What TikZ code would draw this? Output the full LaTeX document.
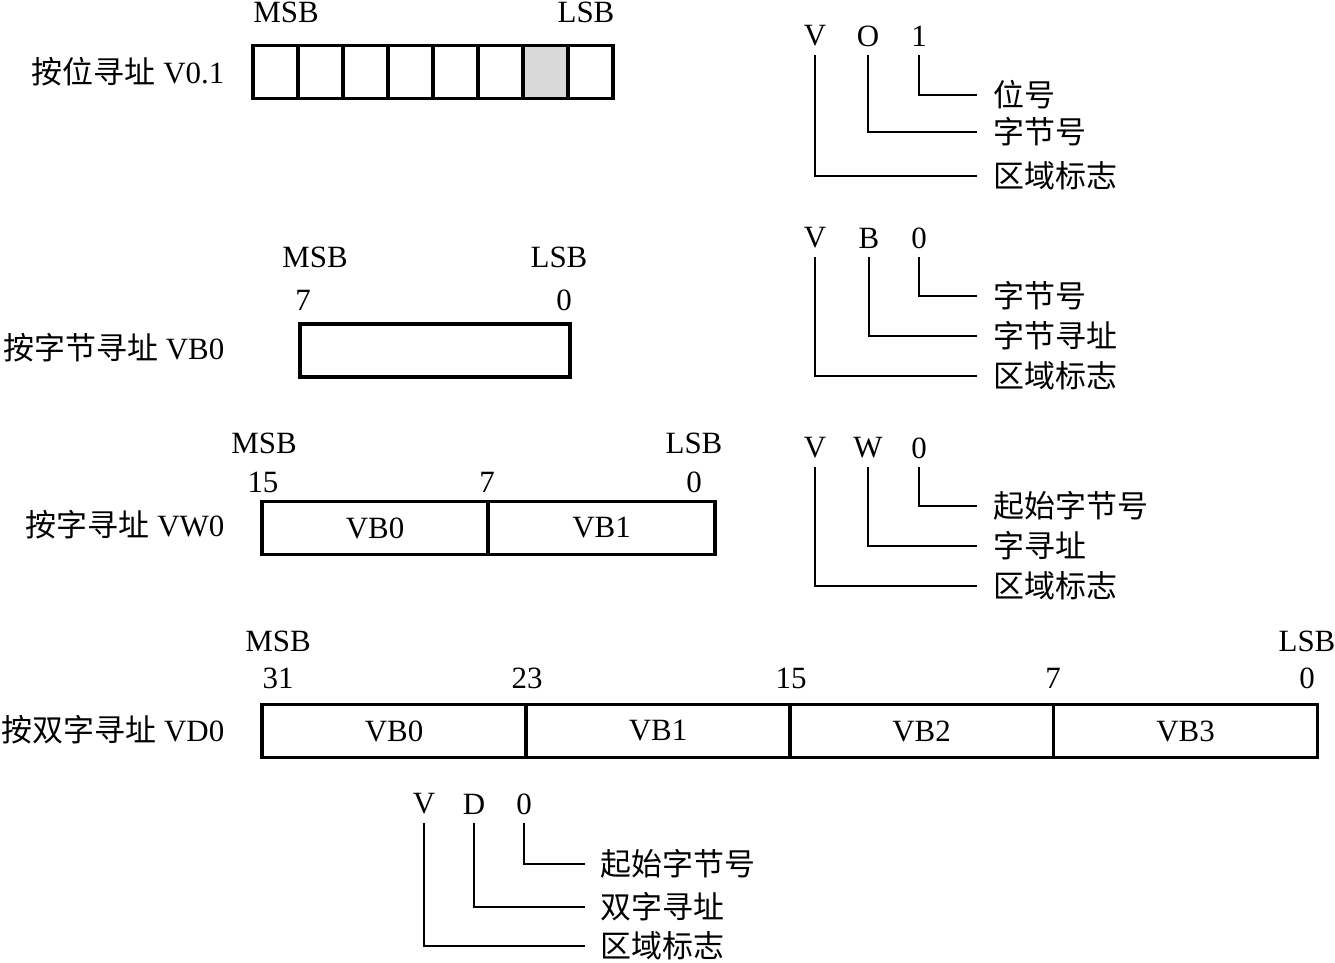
\documentclass[tikz,border=0pt]{standalone}
\usepackage{fontspec}
\setmainfont{Liberation Serif}
\newfontfamily\cjk{Noto Sans CJK SC}
\usetikzlibrary{positioning}
\definecolor{bitgray}{RGB}{217,217,217}
\tikzset{
  lbl/.style={inner sep=0pt,font=\fontsize{8.8}{10}\selectfont},
  zh/.style={lbl,anchor=west,font=\fontsize{8.8}{10}\selectfont\cjk},
  field/.style={draw,line width=0.9pt,minimum height=0.53cm,inner sep=0pt,font=\fontsize{8.8}{10}\selectfont},
  lead/.style={line width=0.6pt,shorten >=0.16cm},
}

\begin{document}
\begin{tikzpicture}[x=0.01cm,y=-0.01cm]
\useasboundingbox (0,0) rectangle (1335,963);
% V0.1
\node[lbl,anchor=east] (bitname) at (225,72) {{\cjk 按位寻址} V0.1};
\foreach \i/\c in {1/white,2/white,3/white,4/white,5/white,6/white,7/bitgray,8/white}
  {\node[field,fill=\c,minimum width=0.45cm] (bit\i) at ({230.5+45*\i},72) {};}
\node[lbl] (bitmsb) at (286,12) {MSB};
\node[lbl] (bitlsb) at (586,12) {LSB};
\node[lbl] (bitv) at (815,36) {V};
\node[lbl] (bito) at (868,36) {O};
\node[lbl] (bitn) at (919,36) {1};
\node[zh] (bitnum) at (993,95) {位号};
\node[zh] (bitbyte) at (993,132) {字节号};
\node[zh] (bitarea) at (993,176) {区域标志};
\draw[lead] ([yshift=-0.08cm]bitn.south) |- (bitnum.west);
\draw[lead] ([yshift=-0.08cm]bito.south) |- (bitbyte.west);
\draw[lead] ([yshift=-0.08cm]bitv.south) |- (bitarea.west);
% VB0
\node[lbl,anchor=east] (bytename) at (225,348) {{\cjk 按字节寻址} VB0};
\node[field,minimum width=2.7cm] (byte) at (435,350.5) {};
\node[lbl] (bytemsb) at (315,257) {MSB};
\node[lbl] (bytelsb) at (559,257) {LSB};
\node[lbl] (byte7) at (303,300) {7};
\node[lbl] (byte0) at (564,300) {0};
\node[lbl] (bytev) at (815,238) {V};
\node[lbl] (byteb) at (869,238) {B};
\node[lbl] (byten) at (919,238) {0};
\node[zh] (bytenum) at (993,296) {字节号};
\node[zh] (bytemode) at (993,336) {字节寻址};
\node[zh] (bytearea) at (993,376) {区域标志};
\draw[lead] ([yshift=-0.08cm]byten.south) |- (bytenum.west);
\draw[lead] ([yshift=-0.08cm]byteb.south) |- (bytemode.west);
\draw[lead] ([yshift=-0.08cm]bytev.south) |- (bytearea.west);
% VW0
\node[lbl,anchor=east] (wordname) at (225,525) {{\cjk 按字寻址} VW0};
\node[field,minimum width=2.26cm] (wordb0) at (375,528) {VB0};
\node[field,minimum width=2.27cm] (wordb1) at (601.5,528) {VB1};
\node[lbl] (wordmsb) at (264,443) {MSB};
\node[lbl] (wordlsb) at (694,443) {LSB};
\foreach \b/\x in {15/263,7/487,0/694}
  {\node[lbl] (word\b) at (\x,482) {\b};}
\node[lbl] (wordv) at (815,448) {V};
\node[lbl] (wordw) at (868,448) {W};
\node[lbl] (wordn) at (919,448) {0};
\node[zh] (wordnum) at (993,506) {起始字节号};
\node[zh] (wordmode) at (993,546) {字寻址};
\node[zh] (wordarea) at (993,586) {区域标志};
\draw[lead] ([yshift=-0.08cm]wordn.south) |- (wordnum.west);
\draw[lead] ([yshift=-0.08cm]wordw.south) |- (wordmode.west);
\draw[lead] ([yshift=-0.08cm]wordv.south) |- (wordarea.west);
% VD0
\node[lbl,anchor=east] (dwname) at (225,730) {{\cjk 按双字寻址} VD0};
\foreach \i/\x in {0/394,1/658,2/921.5,3/1185.5}
  {\node[field,minimum width=2.64cm] (dwb\i) at (\x,731) {VB\i};}
\node[lbl] (dwmsb) at (278,641) {MSB};
\node[lbl] (dwlsb) at (1307,641) {LSB};
\foreach \b/\x in {31/278,23/527,15/791,7/1053,0/1307}
  {\node[lbl] (dw\b) at (\x,678) {\b};}
\node[lbl] (dwv) at (424,804) {V};
\node[lbl] (dwd) at (474,804) {D};
\node[lbl] (dwn) at (524,804) {0};
\node[zh] (dwnum) at (600,864) {起始字节号};
\node[zh] (dwmode) at (600,907) {双字寻址};
\node[zh] (dwarea) at (600,946) {区域标志};
\draw[lead,shorten >=0.15cm] ([yshift=-0.08cm]dwn.south) |- (dwnum.west);
\draw[lead,shorten >=0.15cm] ([yshift=-0.08cm]dwd.south) |- (dwmode.west);
\draw[lead,shorten >=0.15cm] ([yshift=-0.08cm]dwv.south) |- (dwarea.west);
\end{tikzpicture}
\end{document}
